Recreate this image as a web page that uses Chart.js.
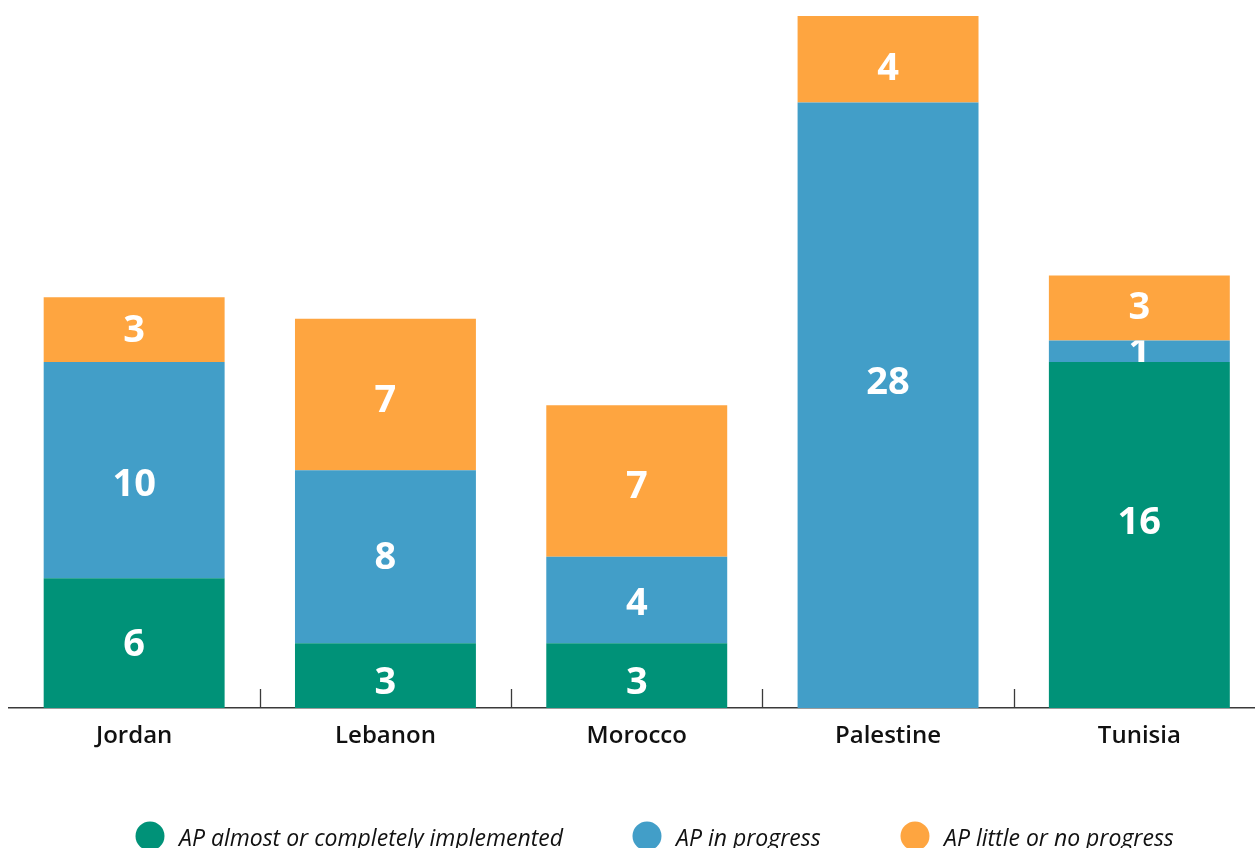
<!DOCTYPE html>
<html>
<head>
<meta charset="utf-8">
<script src="https://cdn.jsdelivr.net/npm/chart.js@4.4.1/dist/chart.umd.min.js"></script>
<style>
  html, body { margin: 0; padding: 0; background: #ffffff; overflow: hidden; }
  #wrap { width: 1265px; height: 848px; position: relative; }
</style>
</head>
<body>
<div id="wrap"><canvas id="c" width="1265" height="848"></canvas></div>
<script>
const categories = ['Jordan', 'Lebanon', 'Morocco', 'Palestine', 'Tunisia'];
const seriesNames = ['AP almost or completely implemented', 'AP in progress', 'AP little or no progress'];
const implemented = [6, 3, 3, 0, 16];
const inProgress = [10, 8, 4, 28, 1];
const littleProgress = [3, 7, 7, 4, 3];
const seriesColors = ['#009278', '#429EC8', '#FEA540'];

// visual nudges of a few value labels (dataset-index : px)
const labelNudge = { '0-1': 6, '0-2': 6, '2-1': 5, '2-2': 4, '1-2': 2, '1-0': 13, '1-3': -24, '0-4': -14, '2-3': 8, '2-4': -2 };

const valueLabels = {
  id: 'valueLabels',
  afterDatasetsDraw(chart) {
    const ctx = chart.ctx;
    ctx.save();
    ctx.font = 'bold 38px "Open Sans"';
    ctx.fillStyle = '#ffffff';
    ctx.textAlign = 'center';
    ctx.textBaseline = 'middle';
    chart.data.datasets.forEach((ds, di) => {
      const meta = chart.getDatasetMeta(di);
      meta.data.forEach((bar, i) => {
        const v = ds.data[i];
        if (!v) return;
        const top = Math.min(bar.y, bar.base);
        const bottom = Math.max(bar.y, bar.base);
        const w = bar.width;
        ctx.save();
        ctx.beginPath();
        ctx.rect(bar.x - w / 2, top, w, bottom - top);
        ctx.clip();
        const nudge = labelNudge[di + '-' + i] || 0;
        ctx.fillText(String(v), bar.x, (top + bottom) / 2 + 2 + nudge);
        ctx.restore();
      });
    });
    ctx.restore();
  }
};

const betweenTicks = {
  id: 'betweenTicks',
  afterDraw(chart) {
    const xs = chart.scales.x;
    const ctx = chart.ctx;
    const base = chart.chartArea.bottom;
    ctx.save();
    ctx.strokeStyle = '#3a3a3a';
    ctx.lineWidth = 1.3;
    for (let i = 0; i < categories.length - 1; i++) {
      const p = (xs.getPixelForValue(i) + xs.getPixelForValue(i + 1)) / 2;
      ctx.beginPath();
      ctx.moveTo(Math.round(p) + 0.5, base - 19);
      ctx.lineTo(Math.round(p) + 0.5, base);
      ctx.stroke();
    }
    ctx.restore();
  }
};

const legendAnchors = [150, 647, 915];
const customLegend = {
  id: 'customLegend',
  afterDraw(chart) {
    const ctx = chart.ctx;
    ctx.save();
    const cy = 836;
    seriesNames.forEach((name, k) => {
      const cx = legendAnchors[k];
      ctx.beginPath();
      ctx.arc(cx, cy, 14.5, 0, Math.PI * 2);
      ctx.fillStyle = seriesColors[k];
      ctx.fill();
      ctx.fillStyle = '#111111';
      ctx.font = 'italic 23px "Open Sans"';
      ctx.textAlign = 'left';
      ctx.textBaseline = 'alphabetic';
      ctx.fillText(name, cx + 29, 846);
    });
    ctx.restore();
  }
};

new Chart(document.getElementById('c'), {
  type: 'bar',
  data: {
    labels: categories,
    datasets: [
      { label: seriesNames[0], data: implemented, backgroundColor: seriesColors[0] },
      { label: seriesNames[1], data: inProgress, backgroundColor: seriesColors[1] },
      { label: seriesNames[2], data: littleProgress, backgroundColor: seriesColors[2] }
    ]
  },
  options: {
    responsive: false,
    animation: false,
    devicePixelRatio: 1,
    layout: { padding: { left: 8.5, top: 16, right: 0, bottom: 0 } },
    datasets: { bar: { barPercentage: 0.72, categoryPercentage: 1, borderWidth: 0 } },
    plugins: { legend: { display: false }, tooltip: { enabled: false } },
    scales: {
      x: {
        stacked: true,
        offset: true,
        grid: { display: false, drawTicks: false },
        border: { display: true, color: '#3a3a3a', width: 1.5 },
        ticks: { color: '#111111', font: { family: 'Open Sans', size: 24, weight: '600' }, padding: 14, maxRotation: 0 },
        afterFit(scale) { scale.height = 140; }
      },
      y: {
        stacked: true,
        display: false,
        min: 0,
        max: 32
      }
    }
  },
  plugins: [valueLabels, betweenTicks, customLegend]
});
</script>
</body>
</html>
